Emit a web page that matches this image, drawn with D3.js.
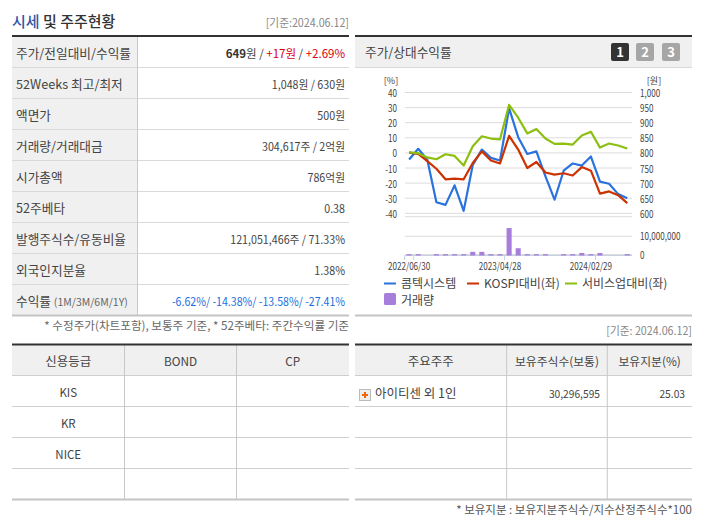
<!DOCTYPE html>
<html>
<head>
<meta charset="utf-8">
<script src="https://d3js.org/d3.v7.min.js"></script>
<style>
html, body { margin: 0; padding: 0; background: #fff; }
text { font-family: "Noto Sans CJK KR", "Noto Sans", sans-serif; }
</style>
</head>
<body>
<div id="page"></div>
<script>
// Chart data
const dates = ["2022/06/30","2022/07/29","2022/08/31","2022/09/30","2022/10/31","2022/11/30","2022/12/29","2023/01/31","2023/02/28","2023/03/31","2023/04/28","2023/05/31","2023/06/30","2023/07/31","2023/08/31","2023/09/27","2023/10/31","2023/11/30","2023/12/28","2024/01/31","2024/02/29","2024/03/29","2024/04/30","2024/05/31","2024/06/12"];
const tickDates = ["2022/06/30","2023/04/28","2024/02/29"];
const stockReturn = [-4.4,2.7,-4.5,-32.7,-34.4,-21.5,-38.4,-8,2.2,-3.3,-5,29.5,10.4,-0.7,1,-15.5,-31,-11.8,-7,-8.4,-2.4,-19,-20.4,-27.3,-30];
const kospiReturn = [0.2,-0.7,-5.5,-10.5,-17.5,-17,-17.5,-6.7,1,-5,-7,11.3,2.2,-10,-6,-13,-14.4,-13.5,-15,-9.4,-11.8,-27,-25.5,-28,-33.3];
const serviceReturn = [0.4,-0.2,-3,-4.2,-0.9,-2,-8.4,4.4,11,9.5,9,31.8,23.3,12.9,15.8,9.5,6,6.2,5.5,11.5,14,3.5,6.2,4.9,2.9];
const volume = [700000,700000,0,700000,700000,700000,700000,1900000,1900000,700000,700000,14300000,3800000,700000,700000,700000,0,700000,700000,1300000,700000,1300000,0,0,700000];
const pctTicks = [40,30,20,10,0,-10,-20,-30,-40];
const priceTicks = ["1,000","950","900","850","800","750","700","650","600"];

const seriesNames = ["콤텍시스템","KOSPI대비(좌)","서비스업대비(좌)"];
const seriesColors = ["#2a72de","#cc3300","#8cbf10"];

// Table contents
const infoLabels = ["주가/전일대비/수익률","52Weeks 최고/최저","액면가","거래량/거래대금","시가총액","52주베타","발행주식수/유동비율","외국인지분율"];
const infoValues = [null,"1,048원 / 630원","500원","304,617주 / 2억원","786억원","0.38","121,051,466주 / 71.33%","1.38%"];
const priceParts = [["649","#333",700],["원 / ","#444",400],["+17원","#d7000f",400],[" / ","#444",400],["+2.69%","#d7000f",400]];
const creditHeader = ["신용등급","BOND","CP"];
const creditAgencies = ["KIS","KR","NICE",""];
const holderHeader = ["주요주주","보유주식수(보통)","보유지분(%)"];

const width = 702, height = 525;
const textColor = "#444";
const svg = d3.select("#page").append("svg")
    .attr("width", width).attr("height", height)
    .style("display", "block");

function line(x1, y1, x2, y2, color, w) {
    svg.append("line").attr("x1", x1).attr("y1", y1).attr("x2", x2).attr("y2", y2)
        .attr("stroke", color).attr("stroke-width", w || 1);
}
function rect(x, y, w, h, fill) {
    return svg.append("rect").attr("x", x).attr("y", y).attr("width", w).attr("height", h).attr("fill", fill);
}
function label(x, y, str, size, anchor, color) {
    return svg.append("text").attr("x", x).attr("y", y).attr("text-anchor", anchor || "start")
        .attr("font-size", size).attr("fill", color || textColor).text(str);
}
// the original digits are narrower than Noto's, so squeeze the text a bit
function squeeze(sel, k) {
    sel.each(function() {
        d3.select(this).attr("lengthAdjust", "spacingAndGlyphs")
            .attr("textLength", this.getComputedTextLength() * k);
    });
    return sel;
}

// Title
const title = svg.append("text").attr("x", 12).attr("y", 27).attr("font-size", 15).attr("font-weight", 500);
title.append("tspan").attr("fill", "#2f55a4").text("시세");
title.append("tspan").attr("fill", "#333").text(" 및 주주현황");
squeeze(label(349, 27, "[기준:2024.06.12]", 11.5, "end", "#888"), 0.93);

// Left info table
const rowH = 31, infoTop = 36.5, rowBase = 21.5;
rect(12, infoTop, 125.5, rowH * 9, "#f0f0f0");
infoLabels.forEach((d, i) => {
    label(16, infoTop + rowH * i + rowBase, d, 12.7);
    if (infoValues[i]) squeeze(label(345, infoTop + rowH * i + rowBase, infoValues[i], 11.5, "end"), 0.93);
    line(12, infoTop + rowH * (i + 1), 349, infoTop + rowH * (i + 1), "#d9d9d9");
});
const priceText = svg.append("text").attr("x", 345).attr("y", infoTop + rowBase).attr("text-anchor", "end").attr("font-size", 11.5);
priceParts.forEach(p => priceText.append("tspan").attr("fill", p[1]).attr("font-weight", p[2]).text(p[0]));

const retRow = label(16, infoTop + rowH * 8 + rowBase, "수익률 ", 12.7);
retRow.append("tspan").attr("font-size", 10.5).attr("fill", "#666").text("(1M/3M/6M/1Y)");
squeeze(label(345, infoTop + rowH * 8 + rowBase, "-6.62%/ -14.38%/ -13.58%/ -27.41%", 11.5, "end", "#1a6fe0"), 0.92);
line(137.5, infoTop, 137.5, infoTop + rowH * 9, "#c8c8c8");
line(12, 36, 349, 36, "#333", 2);
line(12, 315.5, 349, 315.5, "#c4c4c4", 2);
label(349, 330, "* 수정주가(차트포함), 보통주 기준, * 52주베타: 주간수익률 기준", 11.6, "end", "#666");

// Chart panel
rect(355, 37, 337, 30, "#f0f0f0");
line(355, 36, 692, 36, "#333", 2);
line(355, 67.5, 692, 67.5, "#d9d9d9");
line(355, 315.5, 692, 315.5, "#c4c4c4", 2);
label(365, 57, "주가/상대수익률", 12.7);

["1","2","3"].forEach((d, i) => {
    const bx = [611, 636, 662][i];
    rect(bx, 43, 18, 18, i === 0 ? "#333" : "#a6a6a6").attr("rx", 2);
    label(bx + 9, 57, d, 13, "middle", "#fff").attr("font-family", "DejaVu Sans").attr("font-weight", 700);
});

// Scales
const x = d3.scaleBand().domain(dates).range([404.6, 631.8]);
const y = d3.scaleLinear().domain([-40, 40]).range([213.3, 92.5]);
const yVol = d3.scaleLinear().domain([0, 10000000]).range([255.5, 236.3]);
const xMid = d => x(d) + x.bandwidth() / 2;

label(391, 83.5, "[%]", 9, "middle");
label(654, 83.5, "[원]", 9, "middle");

// Grid and axis labels
const axisSize = 10, axisSqueeze = 0.81;
const chartG = svg.append("g");
chartG.selectAll(".grid").data(pctTicks).join("line")
    .attr("x1", 405).attr("x2", 632).attr("y1", d => y(d)).attr("y2", d => y(d))
    .attr("stroke", "#dcdcdc").attr("stroke-width", 1);
squeeze(chartG.selectAll(".pct").data(pctTicks).join("text")
    .attr("x", 397).attr("y", d => y(d) + 4.5).attr("text-anchor", "end")
    .attr("font-size", axisSize).attr("fill", textColor).text(d => d), axisSqueeze);
squeeze(chartG.selectAll(".price").data(priceTicks).join("text")
    .attr("x", 640).attr("y", (d, i) => y(pctTicks[i]) + 4.5)
    .attr("font-size", axisSize).attr("fill", textColor).text(d => d), axisSqueeze);
line(405, 216.7, 632, 216.7, "#dcdcdc");

// Volume pane
line(405, yVol(10000000), 632, yVol(10000000), "#dcdcdc");
line(405, 254.5, 632, 254.5, "#dcdcdc");
squeeze(label(640, yVol(10000000) + 4, "10,000,000", axisSize), axisSqueeze);
squeeze(label(640, yVol(0) + 3.5, "0", axisSize), axisSqueeze);

// Date axis
line(404.6, 255.5, 632, 255.5, "#c5d3e0");
line(404.6, 255.5, 404.6, 260, "#c5d3e0");
tickDates.forEach(d => {
    const tx = x(d) + x.bandwidth();
    line(tx, 255.5, tx, 260, "#c5d3e0");
    squeeze(label(xMid(d), 270, d, axisSize, "middle"), axisSqueeze);
});

const volG = svg.append("g");
volG.selectAll("rect").data(volume).join("rect")
    .attr("x", (d, i) => x(dates[i]) + 2)
    .attr("width", x.bandwidth() - 4)
    .attr("y", d => yVol(d))
    .attr("height", d => yVol(0) - yVol(d))
    .attr("fill", "#a87edc");

// Return lines
const pathGen = d3.line().x((d, i) => xMid(dates[i])).y(d => y(d));
[stockReturn, kospiReturn, serviceReturn].forEach((s, i) => {
    svg.append("path").attr("d", pathGen(s)).attr("fill", "none")
        .attr("stroke", seriesColors[i]).attr("stroke-width", 2.2)
        .attr("stroke-linejoin", "round");
});

// Legend
const legendX = [384, 467, 565];
seriesNames.forEach((d, i) => {
    rect(legendX[i], 282.5, 12, 2, seriesColors[i]);
    label(legendX[i] + 17, 287.5, d, 12);
});
rect(384, 293, 12, 12, "#a87edc").attr("rx", 1.5);
label(401, 305, "거래량", 12);

// Lower tables
const tableTop = 344.5, tableRow = 31;
const creditCols = [12, 124.5, 236.5, 349];
const holderCols = [355, 506.7, 607.3, 692];

function drawTable(cols, header) {
    const left = cols[0], right = cols[cols.length - 1];
    rect(left, tableTop, right - left, tableRow, "#f0f0f0");
    for (let r = 1; r <= 4; r++) line(left, tableTop + tableRow * r, right, tableTop + tableRow * r, "#cfcfcf");
    cols.slice(1, -1).forEach(c => line(c, tableTop, c, tableTop + tableRow * 5, "#c8c8c8"));
    line(left, tableTop, right, tableTop, "#333", 2);
    line(left, tableTop + tableRow * 5, right, tableTop + tableRow * 5, "#c4c4c4", 2);
    header.forEach((h, i) => {
        label((cols[i] + cols[i + 1]) / 2, tableTop + 21.5, h, i === 0 ? 12.5 : 11.8, "middle");
    });
}
drawTable(creditCols, creditHeader);
drawTable(holderCols, holderHeader);

creditAgencies.forEach((d, i) => {
    label((creditCols[0] + creditCols[1]) / 2, tableTop + tableRow * (i + 1) + 21, d, 11.5, "middle");
});

// Holder row
rect(359.5, 389.5, 11, 11, "#eee").attr("stroke", "#bbb").attr("stroke-width", 1);
rect(362, 394, 6, 2, "#f26500");
rect(364, 392, 2, 6, "#f26500");
label(375, 397.5, "아이티센 외 1인", 12.5);
squeeze(label(600, 398, "30,296,595", 11, "end"), 0.93);
squeeze(label(685, 398, "25.03", 11, "end"), 0.93);

squeeze(label(692, 335, "[기준: 2024.06.12]", 11.5, "end", "#888"), 0.93);
label(692, 514, "* 보유지분 : 보유지분주식수/지수산정주식수*100", 11.5, "end", "#555");
</script>
</body>
</html>
